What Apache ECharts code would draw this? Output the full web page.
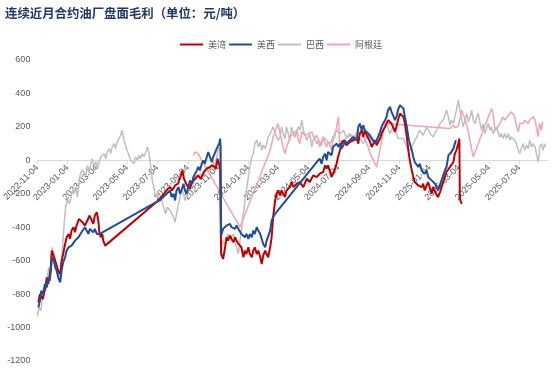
<!DOCTYPE html>
<html>
<head>
<meta charset="utf-8">
<script src="https://cdn.jsdelivr.net/npm/echarts@6/dist/echarts.min.js"></script>
<style>
html,body{margin:0;padding:0;background:#fff;}
#chart{width:554px;height:383px;}
</style>
</head>
<body>
<div id="chart"></div>
<script>
const titleText = '连续近月合约油厂盘面毛利（单位：元/吨）';
const seriesNames = ['美湾', '美西', '巴西', '阿根廷'];
const tickLabels = ['2022-11-04','2023-01-04','2023-03-04','2023-05-04','2023-07-04','2023-09-04','2023-11-04','2024-01-04','2024-03-04','2024-05-04','2024-07-04','2024-09-04','2024-11-04','2025-01-04','2025-03-04','2025-05-04','2025-07-04'];
const xMinDate = '2022-11-04';
const xMaxDate = '2025-08-29';
const yTicks = [-1200, 600, 200];

// 美湾
const usGulf = [
['2022-11-06',-850],['2022-11-09',-800],['2022-11-15',-830],['2022-11-20',-760],['2022-11-23',-700],['2022-11-26',-740],['2022-12-01',-640],['2022-12-03',-540],['2022-12-08',-580],['2022-12-12',-620],['2022-12-16',-660],['2022-12-20',-680],['2022-12-23',-600],['2022-12-26',-560],['2022-12-30',-500],['2023-01-02',-460],['2023-01-06',-440],['2023-01-09',-470],['2023-01-12',-420],['2023-01-16',-400],['2023-01-19',-430],['2023-01-22',-390],['2023-01-27',-350],['2023-01-30',-340],['2023-02-03',-370],['2023-02-08',-390],['2023-02-13',-360],['2023-02-17',-330],['2023-02-22',-360],['2023-02-25',-380],['2023-02-28',-330],['2023-03-04',-310],['2023-03-07',-360],['2023-03-09',-430],['2023-03-12',-460],['2023-03-15',-440],['2023-03-17',-480],['2023-03-21',-510],
['2023-07-06',-240],['2023-07-12',-220],['2023-07-18',-200],['2023-07-24',-175],['2023-07-30',-160],['2023-08-03',-180],['2023-08-09',-150],['2023-08-15',-140],['2023-08-21',-90],['2023-08-24',-60],['2023-08-27',-110],['2023-09-02',-150],['2023-09-08',-170],['2023-09-12',-130],['2023-09-18',-110],['2023-09-24',-90],['2023-09-30',-110],['2023-10-06',-70],['2023-10-12',-50],['2023-10-18',-40],['2023-10-24',-30],['2023-10-30',-50],['2023-11-03',10],['2023-11-08',-50],
['2023-11-10',-560],['2023-11-14',-590],['2023-11-18',-520],['2023-11-21',-460],['2023-11-24',-480],['2023-11-28',-450],['2023-12-01',-470],['2023-12-05',-490],['2023-12-08',-460],['2023-12-11',-480],['2023-12-15',-500],['2023-12-18',-490],['2023-12-21',-520],['2023-12-25',-580],['2023-12-28',-540],['2023-12-31',-560],['2024-01-04',-520],['2024-01-07',-560],['2024-01-11',-580],['2024-01-14',-540],['2024-01-17',-520],['2024-01-21',-560],['2024-01-24',-540],['2024-01-28',-580],['2024-01-31',-620],['2024-02-03',-570],['2024-02-07',-540],['2024-02-10',-560],['2024-02-13',-580],['2024-02-17',-520],['2024-02-20',-460],['2024-02-23',-340],['2024-02-27',-240],['2024-03-01',-200],['2024-03-04',-180],['2024-03-08',-210],['2024-03-11',-180],['2024-03-14',-190],['2024-03-18',-220],['2024-03-21',-180],['2024-03-28',-160],['2024-03-31',-130],['2024-04-04',-160],['2024-04-11',-140],['2024-04-17',-130],['2024-04-24',-160],['2024-05-01',-110],['2024-05-07',-130],['2024-05-14',-90],['2024-05-21',-100],['2024-05-27',-80],['2024-06-03',-70],['2024-06-07',-30],['2024-06-10',-50],['2024-06-13',-30],['2024-06-17',-70],['2024-06-20',-100],['2024-06-23',-80],['2024-06-27',-50],['2024-06-30',-20],['2024-07-04',30],['2024-07-07',60],['2024-07-10',100],['2024-07-14',120],['2024-07-20',90],['2024-07-27',110],['2024-08-03',120],['2024-08-10',130],['2024-08-13',100],['2024-08-16',160],['2024-08-20',180],['2024-08-23',140],['2024-08-26',180],['2024-08-30',150],['2024-09-06',110],['2024-09-09',80],['2024-09-12',70],['2024-09-16',120],['2024-09-19',90],['2024-09-22',100],['2024-09-26',130],['2024-09-29',160],['2024-10-02',180],['2024-10-06',200],['2024-10-09',220],['2024-10-12',240],['2024-10-16',250],['2024-10-19',220],['2024-10-22',200],['2024-10-26',170],['2024-10-29',200],['2024-11-01',240],['2024-11-05',280],['2024-11-09',290],['2024-11-12',260],['2024-11-15',220],['2024-11-19',140],['2024-11-22',60],['2024-11-25',0],['2024-11-29',-60],['2024-12-02',-100],['2024-12-05',-130],['2024-12-09',-120],['2024-12-12',-150],['2024-12-15',-140],['2024-12-19',-160],['2024-12-22',-140],['2024-12-25',-180],['2024-12-29',-150],['2025-01-01',-130],['2025-01-05',-170],['2025-01-08',-200],['2025-01-11',-160],['2025-01-15',-190],['2025-01-21',-220],['2025-01-25',-190],
['2025-02-07',-70],['2025-02-11',-80],['2025-02-14',-40],['2025-02-17',-30],['2025-02-21',-10],['2025-02-24',40],['2025-02-27',60],['2025-03-03',100],['2025-03-05',130],['2025-03-06',-200],['2025-03-07',-240],['2025-03-10',-260]
];

// 美西
const usWest = [
['2022-11-06',-880],['2022-11-09',-840],['2022-11-12',-780],['2022-11-16',-800],['2022-11-19',-740],['2022-11-23',-760],['2022-11-26',-700],['2022-11-29',-720],['2022-12-03',-600],['2022-12-06',-580],['2022-12-10',-640],['2022-12-13',-660],['2022-12-16',-700],['2022-12-20',-730],['2022-12-23',-660],['2022-12-26',-610],['2022-12-30',-580],['2023-01-02',-540],['2023-01-06',-520],['2023-01-09',-530],['2023-01-12',-510],['2023-01-16',-500],['2023-01-19',-480],['2023-01-22',-470],['2023-01-26',-460],['2023-01-29',-450],['2023-02-01',-430],['2023-02-05',-420],['2023-02-08',-400],['2023-02-12',-400],['2023-02-15',-440],['2023-02-18',-410],['2023-02-22',-420],['2023-02-25',-430],['2023-02-28',-410],['2023-03-04',-440],['2023-03-07',-430],['2023-03-10',-440],
['2023-07-02',-250],['2023-07-09',-240],['2023-07-16',-220],['2023-07-23',-200],['2023-07-30',-180],['2023-08-02',-220],['2023-08-06',-200],['2023-08-09',-240],['2023-08-12',-180],['2023-08-16',-160],['2023-08-19',-200],['2023-08-22',-180],['2023-08-26',-140],['2023-08-29',-180],['2023-09-01',-200],['2023-09-05',-160],['2023-09-08',-120],['2023-09-12',-140],['2023-09-15',-100],['2023-09-18',-110],['2023-09-22',-60],['2023-09-25',-40],['2023-09-28',-60],['2023-10-02',-20],['2023-10-05',0],['2023-10-08',-20],['2023-10-12',20],['2023-10-15',50],['2023-10-18',60],['2023-10-22',-10],['2023-10-25',20],['2023-10-28',40],['2023-11-01',70],['2023-11-04',60],['2023-11-06',100],['2023-11-08',130],['2023-11-09',80],
['2023-11-10',-450],['2023-11-14',-410],['2023-11-18',-400],['2023-11-21',-390],['2023-11-24',-400],['2023-11-28',-380],['2023-12-01',-400],['2023-12-05',-390],['2023-12-08',-410],['2023-12-11',-390],['2023-12-15',-410],['2023-12-18',-420],['2023-12-21',-440],['2023-12-25',-430],['2023-12-28',-460],['2023-12-31',-440],['2024-01-04',-470],['2024-01-07',-440],['2024-01-11',-460],['2024-01-14',-420],['2024-01-17',-440],['2024-01-21',-400],['2024-01-24',-420],['2024-01-28',-440],['2024-01-31',-470],['2024-02-03',-500],['2024-02-07',-520],['2024-02-10',-480],['2024-02-13',-480],['2024-02-17',-420],['2024-02-20',-360],['2024-02-23',-340],['2024-02-27',-320],
['2024-05-21',-10],['2024-05-27',10],['2024-05-31',-20],['2024-06-03',20],['2024-06-07',40],['2024-06-10',0],['2024-06-13',50],['2024-06-17',60],['2024-06-20',30],['2024-06-23',80],['2024-06-27',70],['2024-06-30',100],['2024-07-04',80],['2024-07-07',100],['2024-07-10',70],['2024-07-14',90],['2024-07-17',120],['2024-07-20',100],['2024-07-27',120],['2024-08-03',140],['2024-08-10',120],['2024-08-13',200],['2024-08-16',220],['2024-08-20',180],['2024-08-23',210],['2024-08-26',180],['2024-08-30',190],['2024-09-02',160],['2024-09-06',170],['2024-09-09',130],['2024-09-12',140],['2024-09-16',100],['2024-09-19',120],['2024-09-22',140],['2024-09-26',170],['2024-09-29',200],['2024-10-02',220],['2024-10-06',240],['2024-10-09',260],['2024-10-12',300],['2024-10-16',320],['2024-10-19',290],['2024-10-22',270],['2024-10-26',240],['2024-10-29',260],['2024-11-01',300],['2024-11-05',330],['2024-11-09',340],['2024-11-12',310],['2024-11-15',260],['2024-11-19',200],['2024-11-22',140],['2024-11-25',100],['2024-11-29',60],['2024-12-02',20],['2024-12-05',-10],['2024-12-09',0],['2024-12-12',-40],['2024-12-15',-20],['2024-12-19',-60],['2024-12-22',-50],['2024-12-25',-80],['2024-12-29',-60],['2025-01-01',-100],['2025-01-05',-100],['2025-01-08',-120],['2025-01-11',-110],['2025-01-15',-140],['2025-01-18',-130],['2025-01-21',-180],
['2025-02-04',-60],['2025-02-07',-40],['2025-02-11',30],['2025-02-14',20],['2025-02-17',50],['2025-02-21',70],['2025-02-24',100],['2025-02-26',120]
];

// 巴西
const brazil = [
['2022-11-04',-930],['2022-11-07',-880],['2022-11-11',-900],['2022-11-14',-820],['2022-11-17',-760],['2022-11-21',-780],['2022-11-24',-700],['2022-11-27',-640],['2022-12-01',-680],['2022-12-04',-520],['2022-12-08',-580],['2022-12-11',-620],['2022-12-14',-640],['2022-12-18',-700],['2022-12-21',-660],['2022-12-24',-560],['2022-12-28',-380],['2022-12-31',-280],['2023-01-04',-230],['2023-01-07',-260],['2023-01-10',-240],['2023-01-14',-180],['2023-01-17',-200],['2023-01-20',-160],['2023-01-24',-220],['2023-01-27',-120],['2023-01-30',-80],['2023-02-03',-60],['2023-02-06',-50],['2023-02-10',-90],['2023-02-13',-30],['2023-02-16',-70],['2023-02-20',-20],['2023-02-23',10],['2023-02-26',-30],['2023-03-02',-10],['2023-03-05',-50],['2023-03-08',-20],['2023-03-12',20],['2023-03-15',10],['2023-03-19',40],['2023-03-22',10],['2023-03-25',50],['2023-03-29',70],['2023-04-01',40],['2023-04-04',80],['2023-04-08',100],['2023-04-11',70],['2023-04-14',110],['2023-04-18',130],['2023-04-21',150],['2023-04-24',180],['2023-04-28',120],['2023-05-01',90],['2023-05-04',60],['2023-05-08',30],['2023-05-11',0],['2023-05-15',10],['2023-05-18',-20],['2023-05-21',20],['2023-05-25',0],['2023-05-28',30],['2023-05-31',10],['2023-06-04',40],['2023-06-07',20],['2023-06-11',50],['2023-06-14',80],['2023-06-17',50],['2023-06-21',-40],['2023-06-24',-120],['2023-06-27',-160],['2023-07-01',-220],['2023-07-04',-200],['2023-07-08',-240],['2023-07-11',-210],['2023-07-14',-250],['2023-07-18',-290],['2023-07-21',-320],['2023-07-24',-280],['2023-07-30',-300],['2023-08-06',-340],['2023-08-09',-370],['2023-08-12',-320],['2023-08-16',-260],['2023-08-19',-220],['2023-08-22',-180],['2023-08-26',-200],['2023-08-29',-240],['2023-09-01',-220],['2023-09-08',-140],['2023-09-12',-160],['2023-09-15',-150],['2023-09-18',-120],['2023-09-22',-130],['2023-09-25',-100],['2023-09-28',-80],['2023-10-02',-70],['2023-10-05',-100],['2023-10-08',-70],['2023-10-12',-40],['2023-10-15',-70],['2023-10-18',-50],['2023-10-22',-20],['2023-10-25',0],['2023-10-28',-40],['2023-11-01',20],['2023-11-04',60],['2023-11-06',80],['2023-11-08',60],
['2023-11-09',-460],['2023-11-11',-520],['2023-11-14',-480],['2023-11-18',-500],['2023-11-21',-470],['2023-11-24',-440],['2023-11-28',-470],['2023-12-01',-460],['2023-12-05',-440],['2023-12-08',-490],['2023-12-11',-520],['2023-12-15',-560],['2023-12-18',-480],['2023-12-21',-420],['2023-12-25',-320],['2023-12-28',-240],['2023-12-31',-180],['2024-01-04',-100],['2024-01-07',-40],['2024-01-11',20],['2024-01-14',40],['2024-01-17',100],['2024-01-21',120],['2024-01-24',80],['2024-01-28',110],['2024-01-31',60],['2024-02-03',90],['2024-02-07',70],['2024-02-10',100],['2024-02-13',140],['2024-02-17',160],['2024-02-20',180],['2024-02-23',200],['2024-02-27',160],['2024-03-01',140],['2024-03-04',120],['2024-03-08',140],['2024-03-11',200],['2024-03-14',160],['2024-03-18',130],['2024-03-21',200],['2024-03-28',120],['2024-03-31',200],['2024-04-04',160],['2024-04-11',180],['2024-04-14',200],['2024-04-17',180],['2024-04-21',240],['2024-04-24',180],['2024-05-01',120],['2024-05-07',160],['2024-05-11',80],['2024-05-14',120],['2024-05-21',150],['2024-05-27',110],['2024-05-31',90],['2024-06-03',140],['2024-06-10',120],['2024-06-17',100],['2024-06-23',140],['2024-06-30',180],['2024-07-07',160],['2024-07-14',180],['2024-07-20',140],['2024-07-27',160],['2024-08-03',120],['2024-08-10',150],['2024-08-16',130],['2024-08-23',100],['2024-08-30',140],['2024-09-06',160],['2024-09-12',130],['2024-09-19',100],['2024-09-26',140],['2024-10-02',180],['2024-10-09',220],['2024-10-16',160],['2024-10-22',200],['2024-10-29',160],['2024-11-01',130],['2024-11-12',130],['2024-11-19',80],['2024-11-25',60],['2024-12-02',100],['2024-12-09',140],['2024-12-15',180],['2024-12-22',150],['2024-12-29',200],['2025-01-05',160],['2025-01-11',140],['2025-01-18',180],['2025-01-25',220],['2025-01-31',240],['2025-02-04',270],['2025-02-07',300],['2025-02-11',260],['2025-02-14',210],['2025-02-17',240],['2025-02-21',220],['2025-02-27',300],['2025-03-03',360],['2025-03-06',300],['2025-03-10',240],['2025-03-13',200],['2025-03-16',240],['2025-03-20',280],['2025-03-23',230],['2025-03-26',250],['2025-03-30',300],['2025-04-02',240],['2025-04-06',220],['2025-04-09',260],['2025-04-12',280],['2025-04-16',220],['2025-04-19',180],['2025-04-22',220],['2025-04-26',160],['2025-04-29',190],['2025-05-02',220],['2025-05-06',180],['2025-05-09',200],['2025-05-12',160],['2025-05-16',180],['2025-05-19',200],['2025-05-22',170],['2025-05-26',140],['2025-05-29',160],['2025-06-01',130],['2025-06-05',160],['2025-06-08',130],['2025-06-12',160],['2025-06-15',120],['2025-06-18',140],['2025-06-22',150],['2025-06-25',120],['2025-06-28',100],['2025-07-02',60],['2025-07-05',40],['2025-07-09',80],['2025-07-12',100],['2025-07-15',60],['2025-07-19',90],['2025-07-22',70],['2025-07-25',120],['2025-07-29',80],['2025-08-01',100],['2025-08-05',80],['2025-08-08',90],['2025-08-11',-10],['2025-08-13',20],['2025-08-14',80],['2025-08-18',100],['2025-08-21',60],['2025-08-24',100],['2025-08-26',80]
];

// 阿根廷
const argentina = [
['2023-09-15',30],['2023-09-18',50],['2023-09-22',60],['2023-09-25',40],['2023-09-28',20],['2023-10-02',30],
['2023-12-18',-400],
['2024-02-17',60],['2024-02-23',140],['2024-03-01',200],['2024-03-04',220],['2024-03-08',160],['2024-03-11',120],['2024-03-14',80],['2024-03-18',40],['2024-03-21',80],['2024-03-24',100],['2024-03-28',140],['2024-03-31',150],['2024-04-04',160],['2024-04-07',140],['2024-04-11',180],['2024-04-14',120],['2024-04-17',100],['2024-04-21',170],['2024-04-24',180],['2024-04-27',150],['2024-05-01',140],['2024-05-04',160],['2024-05-07',150],['2024-05-11',170],['2024-05-14',180],['2024-05-17',130],['2024-05-21',100],['2024-05-24',120],['2024-05-27',80],['2024-05-31',110],['2024-06-03',140],['2024-06-07',100],['2024-06-10',80],['2024-06-13',110],['2024-06-17',90],['2024-06-20',60],['2024-06-23',120],['2024-06-27',150],['2024-06-30',200],['2024-07-04',260],['2024-07-06',100],['2024-07-07',80],['2024-07-10',120],['2024-07-14',100],['2024-07-17',130],['2024-07-20',120],['2024-07-23',140],['2024-07-27',130],['2024-07-30',150],['2024-08-03',160],['2024-08-06',140],['2024-08-10',170],['2024-08-13',160],['2024-08-16',150],['2024-08-20',170],['2024-08-23',160],['2024-08-26',130],['2024-08-30',100],['2024-09-02',80],['2024-09-06',40],
['2024-09-19',-40],
['2024-10-06',220],
['2025-02-14',190],['2025-02-17',200],['2025-02-21',210],['2025-02-24',195],['2025-02-27',190],['2025-03-03',205],['2025-03-06',200],['2025-03-10',300],['2025-03-13',270],['2025-03-16',250],['2025-03-20',210],['2025-03-23',170],
['2025-04-02',20],
['2025-05-09',310],['2025-05-12',280],['2025-05-16',180],['2025-05-19',190],['2025-05-22',200],['2025-05-26',220],['2025-05-29',240],['2025-06-01',260],['2025-06-05',240],['2025-06-08',250],['2025-06-12',270],['2025-06-15',260],['2025-06-18',290],['2025-06-22',300],['2025-06-25',260],['2025-06-28',210],['2025-07-02',170],['2025-07-05',220],['2025-07-09',230],['2025-07-12',220],['2025-07-15',240],['2025-07-19',230],['2025-07-22',220],['2025-07-25',240],['2025-07-29',250],['2025-08-01',260],['2025-08-05',240],['2025-08-08',230],['2025-08-11',140],['2025-08-14',220],['2025-08-18',180],['2025-08-20',230]
];

function toTime(s) {
  const p = s.split('-').map(Number);
  return Date.UTC(p[0], p[1] - 1, p[2]);
}
function pad(n) { return (n < 10 ? '0' : '') + n; }
function fmtDate(v) {
  const d = new Date(v);
  return d.getUTCFullYear() + '-' + pad(d.getUTCMonth() + 1) + '-' + pad(d.getUTCDate());
}
function toPoints(arr) {
  return arr.map(function (p) { return [toTime(p[0]), p[1]]; });
}

const tickValues = tickLabels.map(toTime);
const colors = ['#C00000', '#1F4E96', '#BFBFBF', '#F4A3AE'];
const datasets = [usGulf, usWest, brazil, argentina];
const widths = [2, 2, 1.5, 1.5];
const zs = [4, 5, 2, 3];

const W = 554, H = 383;
const gridTop = 60, gridBottom = 22;
const plotH = H - gridTop - gridBottom;
// shift the x axis up so that it sits on the zero line, labels included
const zeroOffset = -plotH * (0 - yTicks[0]) / (yTicks[1] - yTicks[0]);

const chart = echarts.init(document.getElementById('chart'), null, {renderer: 'canvas'});
chart.setOption({
  animation: false,
  backgroundColor: '#ffffff',
  title: {
    text: titleText,
    left: 5, top: 7, padding: 0,
    textStyle: {fontSize: 12.4, fontWeight: 'bold', color: '#1F3864', fontFamily: 'Noto Sans CJK SC'}
  },
  legend: {
    data: seriesNames,
    left: 175, top: 35,
    icon: 'rect',
    itemWidth: 23, itemHeight: 2, itemGap: 3,
    textStyle: {fontSize: 9, color: '#595959', fontFamily: 'Noto Sans CJK SC'}
  },
  grid: {left: 37, right: 7, top: gridTop, bottom: gridBottom, containLabel: false},
  xAxis: {
    type: 'value',
    min: toTime(xMinDate),
    max: toTime(xMaxDate),
    offset: zeroOffset,
    axisLine: {onZero: false, lineStyle: {color: '#D9D9D9', width: 1}},
    axisTick: {show: true, customValues: tickValues, length: 4, lineStyle: {color: '#D9D9D9'}},
    axisLabel: {
      customValues: tickValues,
      rotate: 45, fontSize: 9, color: '#595959', margin: 6,
      fontFamily: 'Liberation Sans',
      formatter: function (v) { return fmtDate(v); }
    },
    splitLine: {show: false}
  },
  yAxis: {
    type: 'value',
    min: yTicks[0], max: yTicks[1], interval: yTicks[2],
    axisLine: {show: false},
    axisTick: {show: false},
    splitLine: {show: false},
    axisLabel: {fontSize: 9, color: '#595959', margin: 7, fontFamily: 'Liberation Sans',
      formatter: function (v) { return String(v); }}
  },
  series: seriesNames.map(function (name, i) {
    return {
      name: name,
      type: 'line',
      data: toPoints(datasets[i]),
      symbol: 'none',
      z: zs[i],
      color: colors[i],
      lineStyle: {color: colors[i], width: widths[i]}
    };
  })
});
</script>
</body>
</html>
